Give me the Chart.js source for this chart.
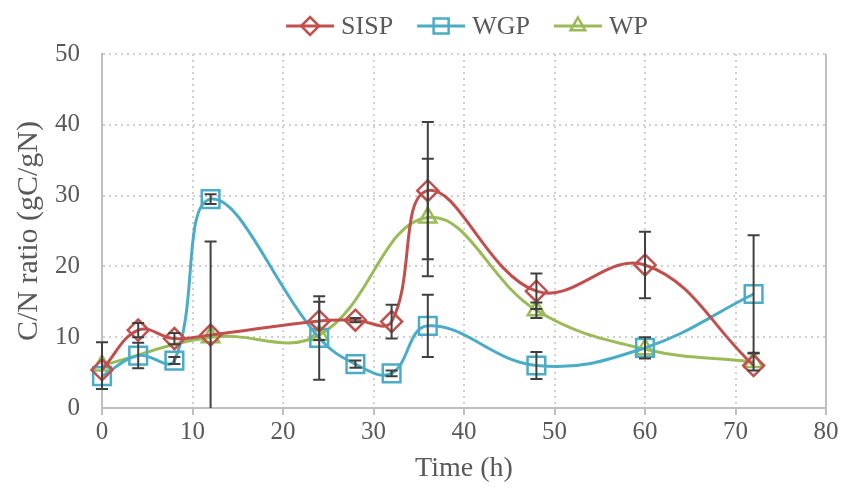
<!DOCTYPE html>
<html><head><meta charset="utf-8">
<script src="https://cdn.jsdelivr.net/npm/chart.js@4.4.1/dist/chart.umd.min.js"></script>
<style>html,body{margin:0;padding:0;background:#fff}canvas{display:block}</style>
</head><body>
<canvas id="c" width="844" height="493"></canvas>
<script>
// ---- data ----
const seriesNames = ['SISP', 'WGP', 'WP'];
const timeSISP = [0, 4, 8, 12, 24, 28, 32, 36, 48, 60, 72];
const valSISP  = [5.4, 11.0, 9.8, 10.3, 12.3, 12.4, 12.2, 30.7, 16.5, 20.2, 6.0];
const errSISP  = [0, 1.0, 0.8, 13.2, 2.7, 0.3, 2.4, 9.7, 2.5, 4.7, 0];
const timeWGP  = [0, 4, 8, 12, 24, 28, 32, 36, 48, 60, 72];
const valWGP   = [4.5, 7.4, 6.7, 29.5, 9.9, 6.2, 4.9, 11.6, 6.0, 8.5, 16.1];
const errWGP   = [0, 1.8, 0.5, 0.7, 5.9, 0.5, 0.4, 4.4, 1.9, 1.5, 8.3];
const timeWP   = [0, 12, 24, 36, 48, 60, 72];
const valWP    = [6.0, 10.0, 10.3, 26.9, 13.8, 8.3, 6.5];
const errWP    = [3.3, 0, 0, 8.3, 1.1, 0, 1.2];
const xTicks = [0, 10, 20, 30, 40, 50, 60, 70, 80];
const yTicks = [0, 10, 20, 30, 40, 50];

const colors = {SISP: '#c0504d', WGP: '#4bacc6', WP: '#9bbb59'};
const FONT = "'Liberation Serif', 'Times New Roman', serif";
const TXT = '#595959';

function pts(xs, ys) { return xs.map((x, i) => ({x: x, y: ys[i]})); }

const datasets = [
  {label: 'SISP', data: pts(timeSISP, valSISP), err: errSISP, borderColor: colors.SISP,
   pointStyle: 'rectRot', pointRadius: 10.5},
  {label: 'WGP', data: pts(timeWGP, valWGP), err: errWGP, borderColor: colors.WGP,
   pointStyle: 'rect', pointRadius: 12.5},
  {label: 'WP', data: pts(timeWP, valWP), err: errWP, borderColor: colors.WP,
   pointStyle: 'triangle', pointRadius: 10},
].map(d => Object.assign({
  backgroundColor: 'rgba(0,0,0,0)',
  pointBackgroundColor: 'rgba(0,0,0,0)',
  pointBorderColor: d.borderColor,
  pointBorderWidth: 2.5,
  pointHoverRadius: d.pointRadius,
  borderWidth: 3,
  tension: 0.4,
  fill: false,
  clip: false,
}, d));

const errorBars = {
  id: 'errorBars',
  afterDatasetsDraw(chart) {
    const {ctx, scales: {x, y}, chartArea: ca} = chart;
    ctx.save();
    ctx.beginPath();
    ctx.rect(ca.left - 20, ca.top - 20, ca.right - ca.left + 40, ca.bottom - ca.top + 20);
    ctx.clip();
    ctx.strokeStyle = '#404040';
    ctx.lineWidth = 2;
    chart.data.datasets.forEach(ds => {
      ds.data.forEach((p, i) => {
        const e = ds.err[i];
        if (!e) return;
        const px = x.getPixelForValue(p.x);
        const top = y.getPixelForValue(p.y + e);
        const bot = y.getPixelForValue(p.y - e);
        ctx.beginPath();
        ctx.moveTo(px, top); ctx.lineTo(px, bot);
        ctx.moveTo(px - 6, top); ctx.lineTo(px + 6, top);
        ctx.moveTo(px - 6, bot); ctx.lineTo(px + 6, bot);
        ctx.stroke();
      });
    });
    ctx.restore();
  }
};

const frame = {
  id: 'frame',
  beforeDatasetsDraw(chart) {
    const {ctx, scales: {x, y}} = chart;
    const px = x.getPixelForValue(xTicks[xTicks.length - 1]);
    ctx.save();
    ctx.strokeStyle = '#bfbfbf';
    ctx.lineWidth = 2;
    ctx.beginPath();
    ctx.moveTo(px, y.getPixelForValue(yTicks[yTicks.length - 1]));
    ctx.lineTo(px, y.getPixelForValue(yTicks[0]) + 7);
    ctx.stroke();
    ctx.restore();
  }
};

const legend = {
  id: 'customLegend',
  afterDraw(chart) {
    const {ctx, chartArea: ca} = chart;
    ctx.save();
    ctx.font = '26px ' + FONT;
    const lineLen = 48, gap = 7, itemGap = 24;
    const widths = chart.data.datasets.map(d => lineLen + gap + ctx.measureText(d.label).width);
    const total = widths.reduce((a, b) => a + b, 0) + itemGap * (widths.length - 1);
    let x0 = (ca.left + ca.right) / 2 - total / 2 + 3;
    const yc = 26;
    chart.data.datasets.forEach((d, i) => {
      ctx.strokeStyle = d.borderColor;
      ctx.lineWidth = 3;
      ctx.beginPath();
      ctx.moveTo(x0, yc); ctx.lineTo(x0 + lineLen, yc);
      ctx.stroke();
      ctx.lineWidth = 2.5;
      ctx.fillStyle = 'rgba(0,0,0,0)';
      Chart.helpers.drawPoint(ctx, {pointStyle: d.pointStyle, radius: d.pointRadius * 0.85, borderWidth: 2.5, rotation: 0}, x0 + lineLen / 2, yc);
      ctx.fillStyle = TXT;
      ctx.textBaseline = 'middle';
      ctx.textAlign = 'left';
      ctx.fillText(d.label, x0 + lineLen + gap, yc + 1);
      x0 += widths[i] + itemGap;
    });
    ctx.restore();
  }
};

new Chart(document.getElementById('c'), {
  type: 'line',
  data: {datasets: datasets},
  plugins: [frame, errorBars, legend],
  options: {
    responsive: false,
    animation: false,
    devicePixelRatio: 1,
    spanGaps: true,
    layout: {padding: {top: 54, right: 18, left: 0, bottom: 0}},
    plugins: {legend: {display: false}, tooltip: {enabled: false}},
    scales: {
      x: {
        type: 'linear', min: xTicks[0], max: xTicks[xTicks.length - 1],
        afterBuildTicks: s => { s.ticks = xTicks.map(v => ({value: v})); },
        afterFit: s => { s.height = 85; },
        ticks: {color: TXT, font: {family: FONT, size: 25}, padding: 2, maxRotation: 0},
        grid: {
          color: c => (c.tick && (c.tick.value === 0 || c.tick.value === 80)) ? 'rgba(0,0,0,0)' : '#d0d0d0',
          lineWidth: 2, drawTicks: true, tickLength: 7, tickColor: '#bfbfbf', tickWidth: 2, tickBorderDash: []
        },
        border: {display: true, color: '#bfbfbf', width: 2, dash: [2, 4]},
        title: {display: true, text: 'Time (h)', color: TXT, font: {family: FONT, size: 28}, padding: {top: 0, bottom: 8}}
      },
      y: {
        min: yTicks[0], max: yTicks[yTicks.length - 1],
        afterBuildTicks: s => { s.ticks = yTicks.map(v => ({value: v})); },
        afterFit: s => { s.width = 102; },
        ticks: {color: TXT, font: {family: FONT, size: 25}, padding: 22},
        grid: {
          color: c => (c.tick && c.tick.value === 0) ? 'rgba(0,0,0,0)' : '#d0d0d0',
          lineWidth: 2, drawTicks: false
        },
        border: {display: true, color: '#bfbfbf', width: 2, dash: [2, 4]},
        title: {display: true, text: 'C/N ratio (gC/gN)', color: TXT, font: {family: FONT, size: 30}, padding: {top: 11, bottom: 0}}
      }
    }
  }
});
</script>
</body></html>
